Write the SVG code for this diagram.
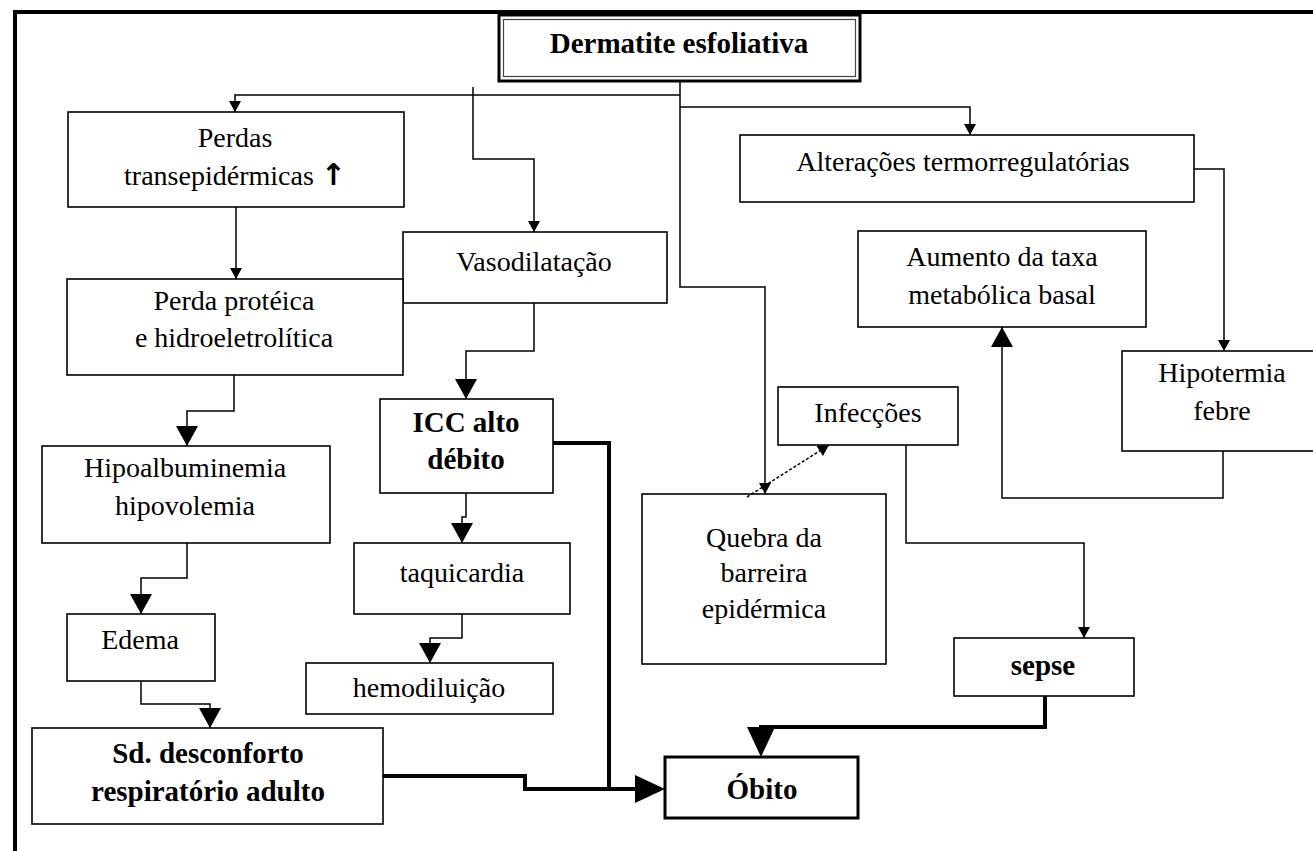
<svg xmlns="http://www.w3.org/2000/svg" width="1313" height="851" viewBox="0 0 1313 851">
<defs>
<style>
.box{fill:#fff;stroke:#000;stroke-width:1.6}
.t{font-family:"Liberation Serif","Times New Roman",serif;font-size:28px;text-anchor:middle;fill:#000}
.b{font-weight:bold;font-size:29px}
.c{fill:none;stroke:#000;stroke-width:1.5}
.k{fill:none;stroke:#000;stroke-width:4}
</style>
<marker id="as" markerUnits="userSpaceOnUse" markerWidth="12" markerHeight="12" viewBox="0 0 11 12" refX="11" refY="6" orient="auto"><path d="M0,0 L11,6 L0,12 z" fill="#000"/></marker>
<marker id="ab" markerUnits="userSpaceOnUse" markerWidth="20" markerHeight="22" viewBox="0 0 20 22" refX="20" refY="11" orient="auto"><path d="M0,0 L20,11 L0,22 z" fill="#000"/></marker>
<marker id="ah" markerUnits="userSpaceOnUse" markerWidth="30" markerHeight="28" viewBox="0 0 30 28" refX="24" refY="14" orient="auto"><path d="M0,0 L30,14 L0,28 z" fill="#000"/></marker>
</defs>
<rect width="1313" height="851" fill="#fff"/>
<g id="frame">
<line x1="15" y1="12" x2="15" y2="851" stroke="#000" stroke-width="4"/>
<line x1="13" y1="12" x2="1313" y2="12" stroke="#000" stroke-width="4"/>
</g>
<g id="dermatite">
<rect x="499" y="15" width="361" height="66" fill="#fff" stroke="#000" stroke-width="3"/>
<rect x="503.5" y="19.5" width="352" height="57" fill="none" stroke="#444" stroke-width="1.2"/>
<text class="t b" x="679" y="53">Dermatite esfoliativa</text>
</g>
<g id="perdas">
<rect class="box" x="68" y="112" width="336" height="95"/>
<text class="t" x="235" y="147">Perdas</text>
<text class="t" x="235" y="185">transepidérmicas <tspan font-family="DejaVu Sans" font-weight="bold" font-size="30">↑</tspan></text>
</g>
<g id="alteracoes">
<rect class="box" x="740" y="135" width="454" height="67"/>
<text class="t" x="963" y="171">Alterações termorregulatórias</text>
</g>
<g id="vasodilatacao">
<rect class="box" x="403" y="232" width="264" height="71"/>
<text class="t" x="534" y="271">Vasodilatação</text>
</g>
<g id="perda-proteica">
<rect class="box" x="67" y="279" width="336" height="96"/>
<text class="t" x="234" y="310">Perda protéica</text>
<text class="t" x="234" y="347">e hidroeletrolítica</text>
</g>
<g id="aumento">
<rect class="box" x="858" y="231" width="288" height="96"/>
<text class="t" x="1002" y="266">Aumento da taxa</text>
<text class="t" x="1002" y="304">metabólica basal</text>
</g>
<g id="hipotermia">
<rect class="box" x="1122" y="351" width="210" height="100"/>
<text class="t" x="1222" y="382">Hipotermia</text>
<text class="t" x="1222" y="420">febre</text>
</g>
<g id="icc">
<rect class="box" x="380" y="399" width="173" height="94"/>
<text class="t b" x="466" y="432">ICC alto</text>
<text class="t b" x="466" y="469">débito</text>
</g>
<g id="infeccoes">
<rect class="box" x="778" y="387" width="180" height="58"/>
<text class="t" x="868" y="422">Infecções</text>
</g>
<g id="hipoalbuminemia">
<rect class="box" x="42" y="446" width="288" height="97"/>
<text class="t" x="185" y="477">Hipoalbuminemia</text>
<text class="t" x="185" y="515">hipovolemia</text>
</g>
<g id="quebra">
<rect class="box" x="642" y="494" width="244" height="170"/>
<text class="t" x="764" y="547">Quebra da</text>
<text class="t" x="764" y="582">barreira</text>
<text class="t" x="764" y="618">epidérmica</text>
</g>
<g id="taquicardia">
<rect class="box" x="354" y="543" width="216" height="71"/>
<text class="t" x="462" y="582">taquicardia</text>
</g>
<g id="edema">
<rect class="box" x="67" y="614" width="148" height="67"/>
<text class="t" x="140" y="649">Edema</text>
</g>
<g id="hemodiluicao">
<rect class="box" x="306" y="663" width="247" height="51"/>
<text class="t" x="429" y="697">hemodiluição</text>
</g>
<g id="sepse">
<rect class="box" x="954" y="638" width="180" height="58"/>
<text class="t b" x="1043" y="675" font-size="31">sepse</text>
</g>
<g id="sd">
<rect class="box" x="32" y="728" width="351" height="96"/>
<text class="t b" x="208" y="763">Sd. desconforto</text>
<text class="t b" x="208" y="801">respiratório adulto</text>
</g>
<g id="obito">
<rect x="665" y="757" width="193" height="61" fill="#fff" stroke="#000" stroke-width="3"/>
<text class="t b" x="762" y="799" font-size="31">Óbito</text>
</g>
<g id="connectors">
<path class="c" d="M680,82 V287 H765 V494" marker-end="url(#as)"/>
<path class="c" d="M680,95 H235 V112" marker-end="url(#as)"/>
<path class="c" d="M680,107 H970 V135" marker-end="url(#as)"/>
<path class="c" d="M473,87 V159 H534 V232" marker-end="url(#as)"/>
<path class="c" d="M236,207 V279" marker-end="url(#as)"/>
<path class="c" d="M234,375 V411 H187 V446" marker-end="url(#ab)"/>
<path class="c" d="M534,303 V351 H466 V399" marker-end="url(#ab)"/>
<path class="c" d="M187,543 V578 H141 V614" marker-end="url(#ab)"/>
<path class="c" d="M141,681 V704 H210 V728" marker-end="url(#ab)"/>
<path class="c" d="M466,493 V517 H462 V543" marker-end="url(#ab)"/>
<path class="c" d="M462,614 V638 H430 V663" marker-end="url(#ab)"/>
<path class="c" d="M1194,169 H1224 V351" marker-end="url(#as)"/>
<path class="c" d="M1223,451 V498 H1002 V327" marker-end="url(#ab)"/>
<path class="c" d="M906,445 V543 H1084 V638" marker-end="url(#as)"/>
<path class="c" d="M747,497 L829,445" stroke-dasharray="3 2" marker-end="url(#as)"/>
<path class="k" d="M553,443 H609 V789"/>
<path class="k" d="M383,776 H525 V789 H659" marker-end="url(#ah)"/>
<path class="k" d="M1045,696 V727 H761 V751" marker-end="url(#ah)"/>
</g>
</svg>
